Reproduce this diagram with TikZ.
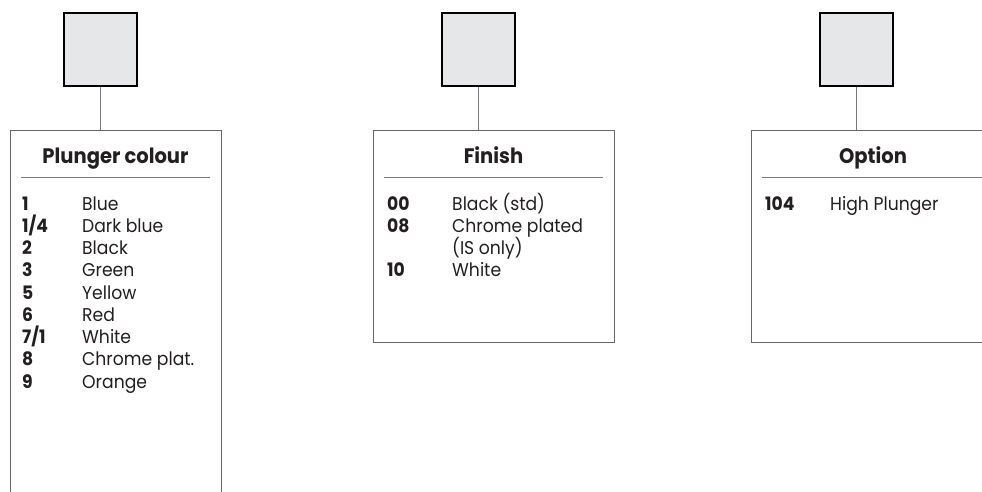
\documentclass[tikz,border=0pt]{standalone}
\usepackage{fontspec}
\setmainfont{Poppins}[FakeStretch=0.93]
\definecolor{swgray}{HTML}{E6E7E8}
\definecolor{edgegray}{HTML}{666666}
\definecolor{sepgray}{HTML}{7A7A7A}
\definecolor{ink}{HTML}{231F20}
\begin{document}
\begin{tikzpicture}[x=1pt,y=-1pt]
\tikzset{
 swatch/.style={draw=black, line width=2pt, fill=swgray, minimum width=73pt, minimum height=73pt, inner sep=0pt},
 panel/.style={draw=edgegray, line width=1pt},
 sepline/.style={draw=sepgray, line width=1pt},
 link/.style={draw=sepgray, line width=1pt},
 head/.style={font=\fontsize{21}{24}\selectfont\bfseries, text=ink, anchor=base, inner sep=0pt},
 code/.style={font=\fontsize{18.5}{20}\selectfont\bfseries, text=ink, anchor=base west, inner sep=0pt},
 desc/.style={font=\fontsize{18.5}{20}\selectfont, text=ink, anchor=base west, inner sep=0pt},
}
\useasboundingbox (0,0) rectangle (982,492);
% swatches
\node[swatch] (sq1) at (100,50) {};
\node[swatch] (sq2) at (478,50) {};
\node[swatch] (sq3) at (856.5,50) {};
% panel tops
\coordinate (p1) at (100,131);
\coordinate (p2) at (478,131);
\coordinate (p3) at (856.5,131);
\draw[link] (sq1) -- (p1);
\draw[link] (sq2) -- (p2);
\draw[link] (sq3) -- (p3);
% panels
\draw[panel] (10,493) -- (10,131) -- (221,131) -- (221,493);
\draw[panel] (373,131) rectangle (614,342);
\draw[panel] (983,131) -- (751,131) -- (751,342) -- (983,342);
% headers
\node[head] (h1) at (115.5,164) {Plunger colour};
\node[head] (h2) at (493.5,164) {Finish};
\node[head] (h3) at (873,164) {Option};
\draw[sepline] (21,177) -- (210,177);
\draw[sepline] (384,177) -- (603,177);
\draw[sepline] (762,177) -- (983,177);
% plunger rows
\foreach \c/\d [count=\i from 0] in {1/Blue, 1\slash 4/Dark blue, 2/Black, 3/Green, 5/Yellow, 6/Red, 7\slash 1/White, 8/Chrome plat., 9/Orange}{
  \node[code] (pc\i) at (22,{210+22.25*\i}) {\c};
  \node[desc] (pd\i) at (82,{210+22.25*\i}) {\d};
}
% finish rows
\node[code] (fc0) at (387,210) {00};
\node[desc] (fd0) at (452,210) {Black (std)};
\node[code] (fc1) at (387,232.25) {08};
\node[desc] (fd1) at (452,232.25) {Chrome plated};
\node[desc] (fd2) at (452,254.5) {(IS only)};
\node[code] (fc3) at (387,276.75) {10};
\node[desc] (fd3) at (452,276.75) {White};
% option rows
\node[code] (oc0) at (765,210) {104};
\node[desc] (od0) at (830,210) {High Plunger};
\end{tikzpicture}
\end{document}
